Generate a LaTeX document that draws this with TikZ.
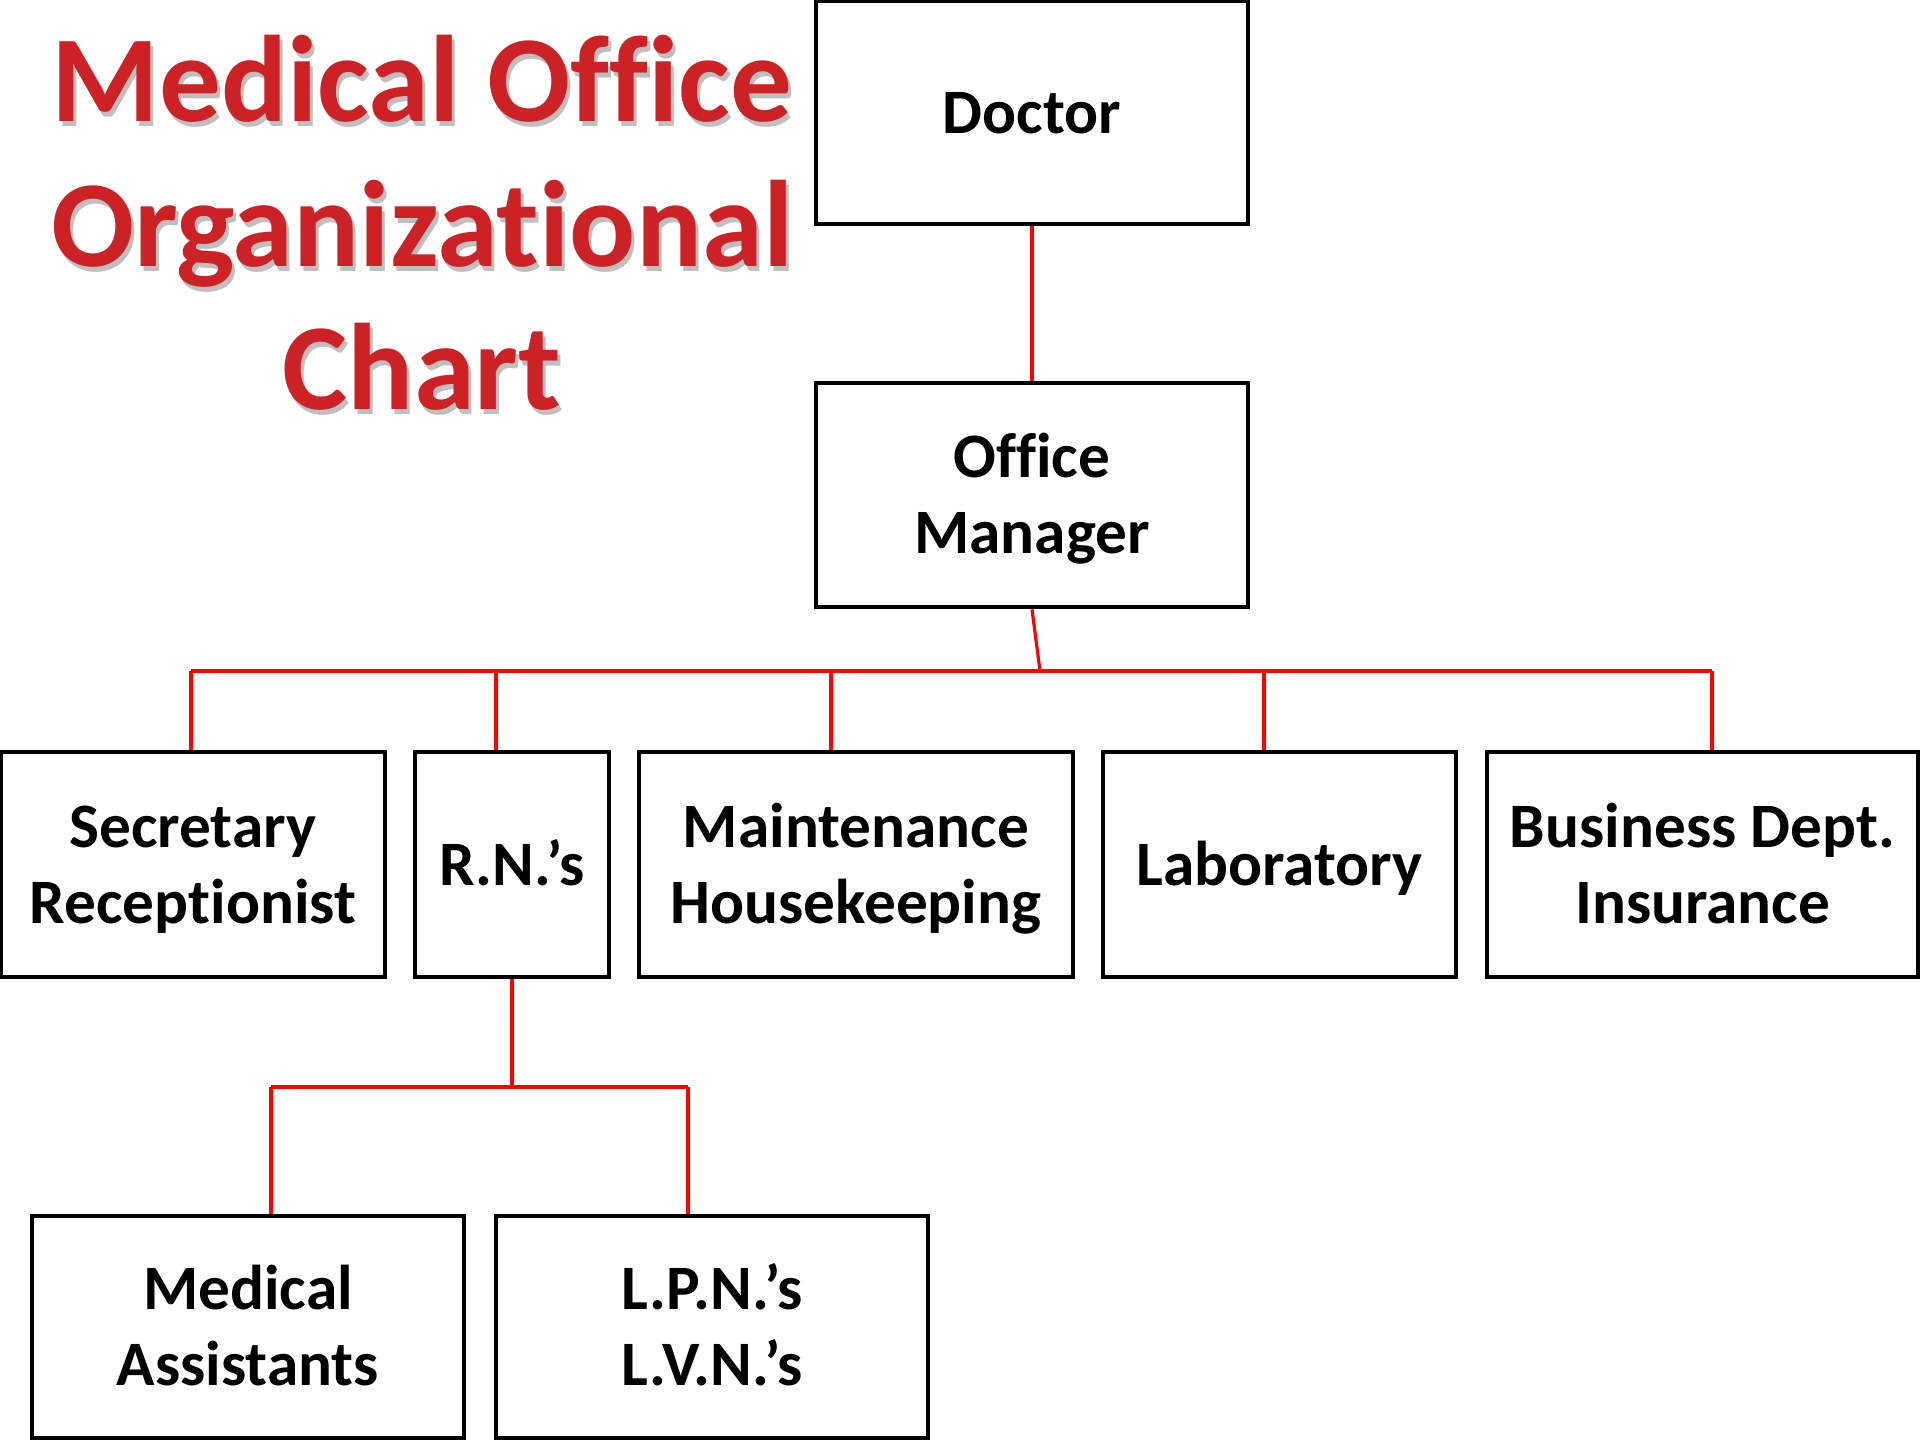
\documentclass[tikz,border=0pt]{standalone}
\usepackage{fontspec}
\setmainfont{Carlito}[RawFeature={-liga;-clig;-dlig;-calt;-rlig}]
\definecolor{titlered}{RGB}{204,34,38}
\definecolor{linered}{RGB}{255,0,0}
\newcommand{\bstrut}{\rule[-4.9pt]{0pt}{21.6pt}}
\newcommand{\nolig}{\kern0pt }
\begin{document}
\begin{tikzpicture}[x=0.01cm,y=-0.01cm,
  box/.style={draw=black,line width=1.3pt,fill=white,inner sep=0pt,
    minimum height=2.24cm,align=center,
    font=\bfseries\fontsize{18}{21.6}\selectfont},
  conn/.style={draw=linered,line width=0.9pt},
  ttl/.style={anchor=base,inner sep=0pt,text=titlered,
    font=\bfseries\fontsize{35}{41}\selectfont},
  ttlshadow/.style={anchor=base,inner sep=0pt,text=black!25,
    font=\bfseries\fontsize{35}{41}\selectfont}]
\useasboundingbox (0,0) rectangle (1920,1440);
\fill[white] (0,0) rectangle (1920,1440);

% title
\node[ttlshadow] (title1s) at (425,127) {Medical Office};
\node[ttlshadow] (title2s) at (425,272) {Organizat\nolig ional};
\node[ttlshadow] (title3s) at (425,415) {Chart};
\node[ttl] (title1) at (422,122) {Medical Office};
\node[ttl] (title2) at (422,267) {Organizat\nolig ional};
\node[ttl] (title3) at (422,410) {Chart};

% boxes
\node[box,minimum width=4.32cm,minimum height=2.23cm] (doc) at (1032,112.5) {\bstrut Doctor};
\node[box,minimum width=4.32cm] (om) at (1032,495) {\bstrut Office\\\bstrut Manager};
\node[box,minimum width=3.84cm,minimum height=2.25cm] (sec) at (193,864.5) {\bstrut Secretary\\\bstrut Recept\nolig ionist};
\node[box,minimum width=1.94cm,minimum height=2.25cm] (rn) at (512,864.5) {\bstrut R.N.’s};
\node[box,minimum width=4.34cm,minimum height=2.25cm] (mnt) at (856,864.5) {\bstrut Maintenance\\\bstrut Housekeeping};
\node[box,minimum width=3.53cm,minimum height=2.25cm] (lab) at (1279.5,864.5) {\bstrut Laboratory};
\node[box,minimum width=4.31cm,minimum height=2.25cm] (bus) at (1702.5,864.5) {\bstrut Business Dept.\\\bstrut Insurance};
\node[box,minimum width=4.32cm,minimum height=2.22cm] (med) at (248,1327) {\bstrut Medical\\\bstrut Assistants};
\node[box,minimum width=4.32cm,minimum height=2.22cm] (lpn) at (712,1327) {\bstrut L.P.N.’s\\\bstrut L.V.N.’s};

% connectors
\coordinate (bj) at (1040,671);
\coordinate (b1) at (191,671);
\coordinate (b2) at (496,671);
\coordinate (b3) at (831,671);
\coordinate (b4) at (1264,671);
\coordinate (b5) at (1712,671);
\coordinate (r0) at (512,1087);
\coordinate (r1) at (271,1087);
\coordinate (r2) at (688,1087);

\draw[conn] (doc.south) -- (om.north);
\draw[conn] (om.south) -- (bj);
\draw[conn] (b1) -- (b5);
\draw[conn] (b1) -- (b1 |- sec.north);
\draw[conn] (b2) -- (b2 |- rn.north);
\draw[conn] (b3) -- (b3 |- mnt.north);
\draw[conn] (b4) -- (b4 |- lab.north);
\draw[conn] (b5) -- (b5 |- bus.north);
\draw[conn] (rn.south) -- (r0);
\draw[conn] (r1) -- (r2);
\draw[conn] (r1) -- (r1 |- med.north);
\draw[conn] (r2) -- (r2 |- lpn.north);
\end{tikzpicture}
\end{document}
